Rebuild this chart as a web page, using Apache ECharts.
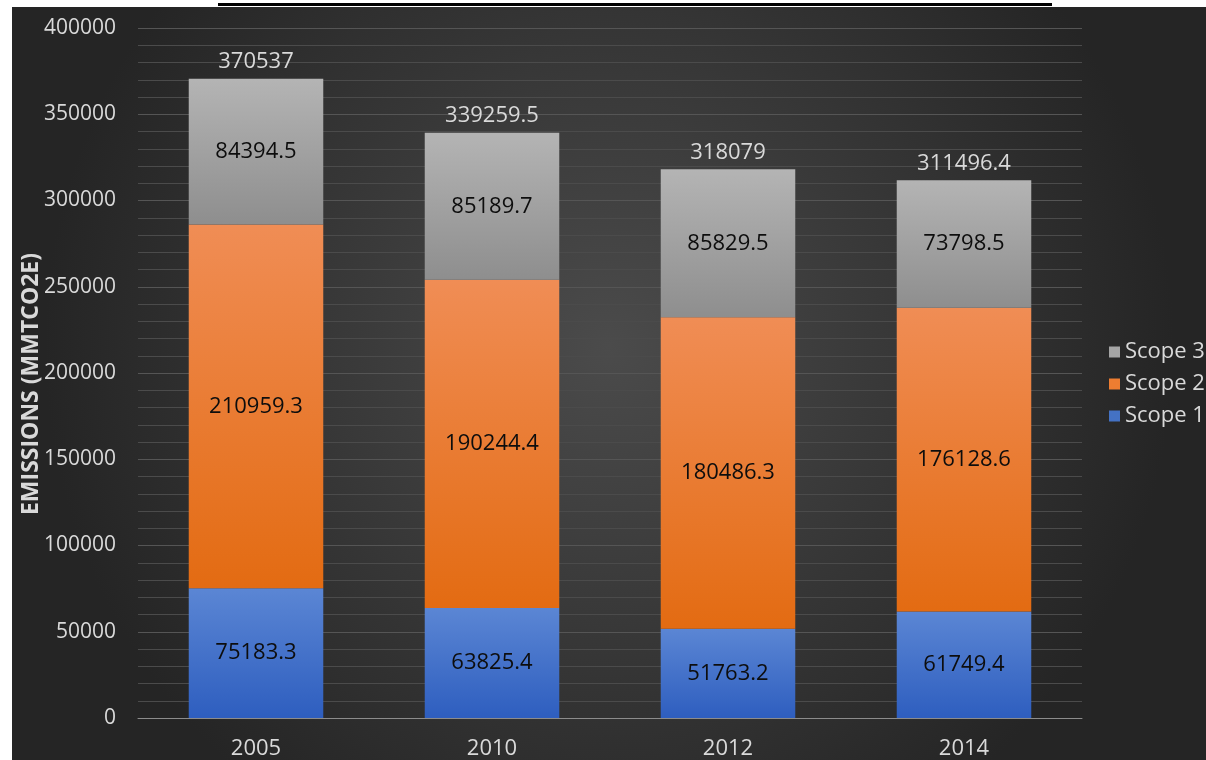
<!DOCTYPE html>
<html>
<head>
<meta charset="utf-8">
<script src="https://cdn.jsdelivr.net/npm/echarts@6/dist/echarts.min.js"></script>
<style>
  html, body { margin: 0; padding: 0; background: #fff; }
  .wrap { position: relative; width: 1206px; height: 760px; overflow: hidden; background: #fff; }
  .topline { position: absolute; left: 218px; top: 3px; width: 834px; height: 3px; background: #000; }
  #chart { position: absolute; left: 12px; top: 7px; width: 1194px; height: 753px; }
</style>
</head>
<body>
<div class="wrap">
  <div class="topline"></div>
  <div id="chart"></div>
</div>
<script>
// 年份
const years = ['2005', '2010', '2012', '2014']
// 各范围排放量
const scope1 = [75183.3, 63825.4, 51763.2, 61749.4]
const scope2 = [210959.3, 190244.4, 180486.3, 176128.6]
const scope3 = [84394.5, 85189.7, 85829.5, 73798.5]
// 柱顶总量标签
const totals = [370537, 339259.5, 318079, 311496.4]

const font = '"Open Sans", "Noto Sans", sans-serif'

function grad(top, bottom) {
  return new echarts.graphic.LinearGradient(0, 0, 0, 1, [
    { offset: 0, color: top },
    { offset: 1, color: bottom },
  ])
}

const innerLabel = {
  show: true,
  position: 'inside',
  color: '#0d0d0d',
  fontSize: 22,
  fontFamily: font,
}

let myCharts = echarts.init(document.getElementById('chart'))
let option = {
  backgroundColor: new echarts.graphic.RadialGradient(0.5, 0.45, 0.75, [
    { offset: 0, color: '#4b4b4b' },
    { offset: 1, color: '#252525' },
  ]),
  animation: false,
  legend: {
    orient: 'vertical',
    left: 1092,
    top: 329,
    itemWidth: 11,
    itemHeight: 11,
    itemGap: 10,
    icon: 'rect',
    textStyle: { color: '#d9d9d9', fontSize: 22, fontFamily: font },
    data: [
      { name: 'Scope 3', itemStyle: { color: '#a5a5a5' } },
      { name: 'Scope 2', itemStyle: { color: '#ed7d31' } },
      { name: 'Scope 1', itemStyle: { color: '#4472c4' } },
    ],
  },
  grid: { left: 126, right: 124, top: 21, bottom: 42, outerBoundsMode: 'none' },
  xAxis: {
    type: 'category',
    data: years,
    axisTick: { show: false },
    axisLine: { lineStyle: { color: '#8c8c8c', width: 1 } },
    axisLabel: { color: '#d9d9d9', fontSize: 22, fontFamily: font, margin: 20 },
  },
  yAxis: {
    type: 'value',
    min: 0,
    max: 400000,
    interval: 50000,
    name: 'EMISSIONS (MMTCO2E)',
    nameLocation: 'middle',
    nameGap: 95,
    nameMoveOverlap: false,
    nameTextStyle: {
      color: '#d9d9d9',
      fontSize: 23,
      fontWeight: 'bold',
      fontFamily: font,
      padding: [0, 22, 0, 0],
    },
    axisLabel: {
      color: '#d9d9d9',
      fontSize: 21,
      fontFamily: font,
      margin: 22,
      formatter: (v) => String(v),
    },
    axisLine: { show: false },
    axisTick: { show: false },
    splitLine: { lineStyle: { color: '#555555', width: 1 } },
    minorTick: { show: false, splitNumber: 5 },
    minorSplitLine: { show: true, lineStyle: { color: '#4b4b4b', width: 1 } },
  },
  series: [
    {
      name: 'Total',
      type: 'bar',
      data: totals,
      barWidth: '57%',
      barGap: '-100%',
      z: 1,
      itemStyle: { color: 'rgba(0,0,0,0)' },
      label: {
        show: true,
        position: 'top',
        distance: 6,
        color: '#d9d9d9',
        fontSize: 22,
        fontFamily: font,
      },
      silent: true,
    },
    {
      name: 'Scope 1',
      type: 'bar',
      stack: 'total',
      data: scope1,
      barWidth: '57%',
      z: 2,
      itemStyle: { color: grad('#5b86d4', '#2e5ebf') },
      label: innerLabel,
    },
    {
      name: 'Scope 2',
      type: 'bar',
      stack: 'total',
      data: scope2,
      barWidth: '57%',
      z: 2,
      itemStyle: { color: grad('#f08d55', '#e36b12') },
      label: innerLabel,
    },
    {
      name: 'Scope 3',
      type: 'bar',
      stack: 'total',
      data: scope3,
      barWidth: '57%',
      z: 2,
      itemStyle: { color: grad('#b4b4b4', '#8e8e8e') },
      label: innerLabel,
    },
  ],
}
myCharts.setOption(option)
</script>
</body>
</html>
